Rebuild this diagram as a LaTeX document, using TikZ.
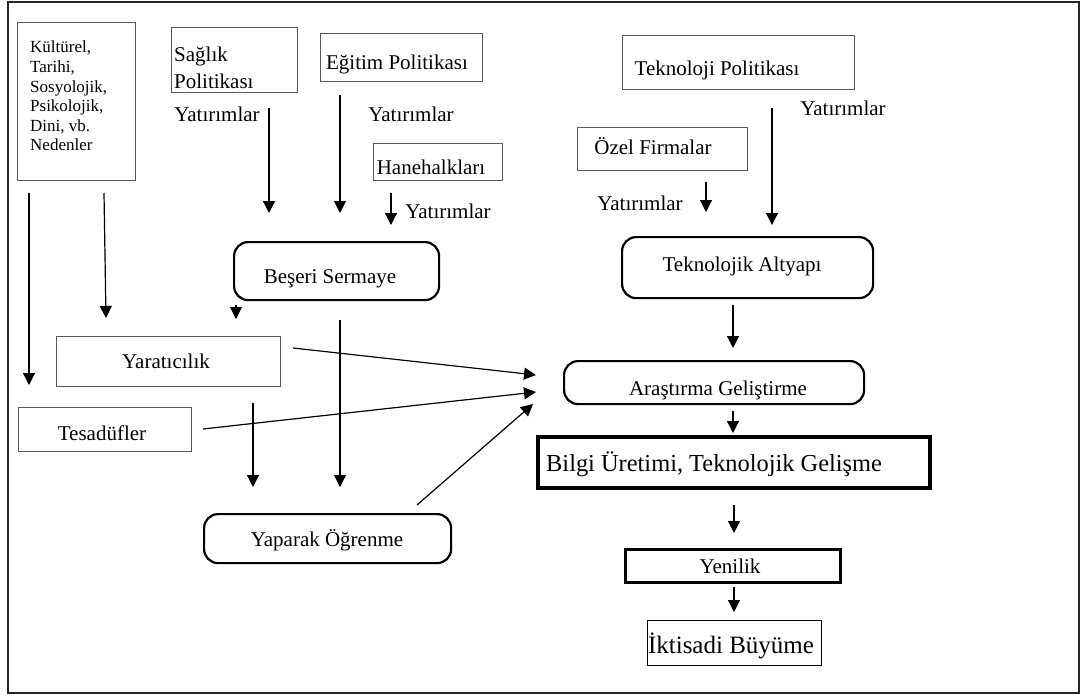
\documentclass[tikz,border=0pt]{standalone}
\usepackage{fontspec}
\setmainfont{Liberation Serif}
\usetikzlibrary{arrows.meta}
\newcommand\myfs[2]{\fontsize{#1}{#2}\selectfont}
\begin{document}
\begin{tikzpicture}[x=1pt,y=-1pt,
 pbox/.style={draw=black!65, line width=1.1pt, inner sep=0pt, anchor=north west},
 tbox/.style={draw=black, inner sep=0pt, anchor=north west},
 rbox/.style={draw=black, line width=2.2pt, rounded corners=14pt, inner sep=0pt, anchor=north west},
 txt/.style={inner sep=0pt, font=\myfs{21}{25}, text height=17pt, text depth=3pt},
 arr/.style={line width=1.2pt, -{Triangle[width=12pt,length=12pt]}},
]
\useasboundingbox (0,0) rectangle (1081,696);
\draw[line width=2pt, black!85] (8,2) rectangle (1079,693);

% boxes
\node[pbox, minimum width=118pt, minimum height=158pt] (kult) at (17,22) {};
\node[pbox, minimum width=126pt, minimum height=65pt] (saglik) at (171,27) {};
\node[pbox, minimum width=162pt, minimum height=48pt] (egitim) at (320,33) {};
\node[pbox, minimum width=129pt, minimum height=37pt] (hane) at (373,143) {};
\node[pbox, minimum width=232pt, minimum height=54pt] (tekpol) at (622,35) {};
\node[pbox, minimum width=170pt, minimum height=43pt] (ozel) at (577,127) {};
\node[pbox, minimum width=224pt, minimum height=50pt] (yarat) at (56,336) {};
\node[pbox, minimum width=173pt, minimum height=44pt] (tesad) at (18,407) {};
\node[tbox, line width=1.3pt, minimum width=174pt, minimum height=45pt] (iktis) at (647,620) {};
\node[tbox, line width=4pt, minimum width=392pt, minimum height=51pt] (bilgi) at (536,435) {};
\node[tbox, line width=3pt, minimum width=215pt, minimum height=33pt] (yenilik) at (624,548) {};
\node[rbox, minimum width=205pt, minimum height=58pt] (beseri) at (233,241) {};
\node[rbox, minimum width=251pt, minimum height=61pt] (tekalt) at (621,236) {};
\node[rbox, minimum width=300pt, minimum height=43pt] (arge) at (563,360) {};
\node[rbox, minimum width=247pt, minimum height=49pt] (yaparak) at (203,513) {};

% texts
\node[inner sep=0pt, anchor=west, align=left, font=\myfs{17}{19.6}] (kultt) at (30,96)
  {Kültürel,\\Tarihi,\\Sosyolojik,\\Psikolojik,\\Dini, vb.\\Nedenler};
\node[inner sep=0pt, anchor=west, align=left, font=\myfs{21}{27}] (saglikt) at (174,68)
  {Sağlık\\Politikası};
\node[txt] (egitimt) at (397,62) {Eğitim Politikası};
\node[txt] (hanet) at (431,167) {Hanehalkları};
\node[txt] (tekpolt) at (717,68) {Teknoloji Politikası};
\node[txt] (ozelt) at (653,147) {Özel Firmalar};
\node[txt] (yaratt) at (166,361) {Yaratıcılık};
\node[txt] (tesadt) at (102,433) {Tesadüfler};
\node[txt, font=\myfs{25}{29}, text height=19pt] (iktist) at (731,645) {İktisadi Büyüme};
\node[txt, anchor=west, font=\myfs{24.4}{28}, text height=19pt] (bilgit) at (546,463) {Bilgi Üretimi, Teknolojik Gelişme};
\node[txt] (yenilikt) at (730,566) {Yenilik};
\node[txt] (beserit) at (330,276) {Beşeri Sermaye};
\node[txt] (tekaltt) at (742,264) {Teknolojik Altyapı};
\node[txt] (arget) at (718,388) {Araştırma Geliştirme};
\node[txt] (yaparakt) at (327,539) {Yaparak Öğrenme};
\node[txt] (yat1) at (217,114) {Yatırımlar};
\node[txt] (yat2) at (411,114) {Yatırımlar};
\node[txt] (yat3) at (448,211) {Yatırımlar};
\node[txt] (yat4) at (843,108) {Yatırımlar};
\node[txt] (yat5) at (640,203) {Yatırımlar};

% free ends of connectors
\coordinate (k1s) at (29,193);   \coordinate (k1e) at (29,385);
\coordinate (k2s) at (104,193);  \coordinate (k2e) at (106,318);
\coordinate (bhs) at (236,305);  \coordinate (bhe) at (236,319);
\coordinate (sgs) at (269,108);  \coordinate (sge) at (269,213);
\coordinate (egs) at (340,95);   \coordinate (ege) at (340,213);
\coordinate (hns) at (391,193);  \coordinate (hne) at (391,225);
\coordinate (tps) at (772,108);  \coordinate (tpe) at (772,225);
\coordinate (ozs) at (706,182);  \coordinate (oze) at (706,212);
\coordinate (bss) at (340,320);  \coordinate (bse) at (340,487);
\coordinate (tds) at (253,403);  \coordinate (tde) at (253,487);
\coordinate (tas) at (733,305);  \coordinate (tae) at (733,348);
\coordinate (ags) at (733,411);  \coordinate (age) at (733,433);
\coordinate (bls) at (734,505);  \coordinate (ble) at (734,533);
\coordinate (yns) at (734,587);  \coordinate (yne) at (734,612);
\coordinate (ys) at (293,348);   \coordinate (ye) at (536,375);
\coordinate (ts) at (203,429);   \coordinate (te) at (536,392);
\coordinate (ps) at (417,505);   \coordinate (pe) at (533,404);

\draw[arr] (k1s) -- (k1e);
\draw[arr] (k2s) -- (k2e);
\draw[arr] (bhs) -- (bhe);
\draw[arr] (sgs) -- (sge);
\draw[arr] (egs) -- (ege);
\draw[arr] (hns) -- (hne);
\draw[arr] (tps) -- (tpe);
\draw[arr] (ozs) -- (oze);
\draw[arr] (bss) -- (bse);
\draw[arr] (tds) -- (tde);
\draw[arr] (tas) -- (tae);
\draw[arr] (ags) -- (age);
\draw[arr] (bls) -- (ble);
\draw[arr] (yns) -- (yne);
\draw[arr] (ys) -- (ye);
\draw[arr] (ts) -- (te);
\draw[arr] (ps) -- (pe);
\end{tikzpicture}
\end{document}
